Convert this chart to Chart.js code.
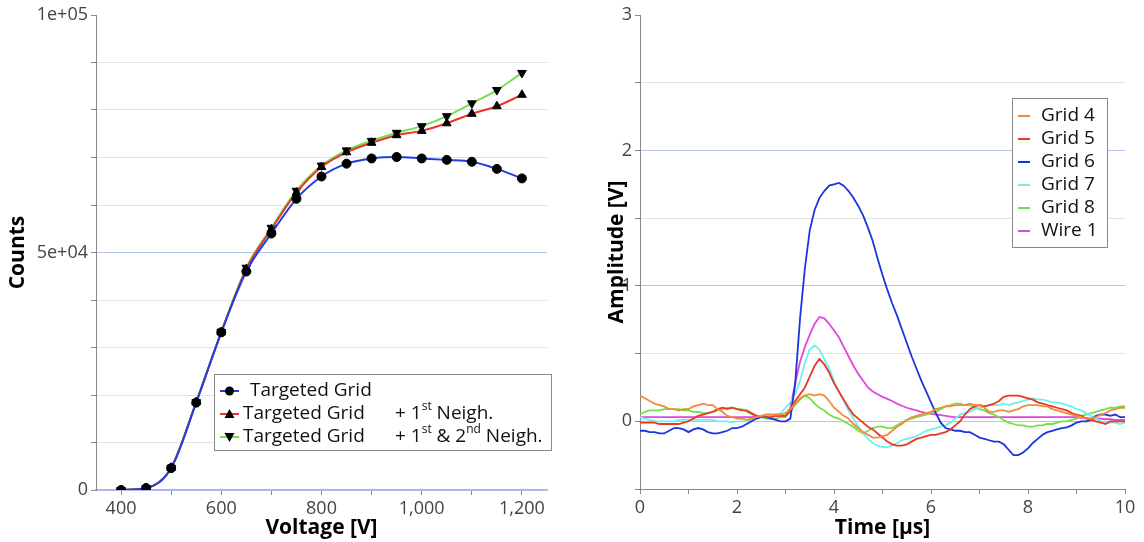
<!DOCTYPE html>
<html>
<head>
<meta charset="utf-8">
<script src="https://cdn.jsdelivr.net/npm/chart.js@4.4.1/dist/chart.umd.min.js"></script>
<style>
	body { margin: 0; background: #fff; }
	#left { position: absolute; left: 0; top: 0; width: 565px; height: 542px; }
	#right { position: absolute; left: 565px; top: 0; width: 579px; height: 542px; }
</style>
</head>
<body>
<div id="left"><canvas id="counts-chart"></canvas></div>
<div id="right"><canvas id="pulse-chart"></canvas></div>
<script>
// left panel: counts vs voltage
const voltage = [400, 450, 500, 550, 600, 650, 700, 750, 800, 850, 900, 950, 1000, 1050, 1100, 1150, 1200];
const countsTargeted = [0, 400, 4600, 18400, 33200, 46000, 54000, 61300, 66000, 68700, 69800, 70100, 69800, 69500, 69100, 67600, 65600];
const countsFirst = [0, 400, 4700, 18500, 33200, 46500, 54900, 62600, 68000, 71100, 73100, 74700, 75600, 77200, 79200, 80800, 83200];
const countsSecond = [0, 400, 4700, 18500, 33300, 46800, 55200, 63000, 68300, 71500, 73500, 75200, 76600, 78700, 81400, 84200, 87800];
const voltageTicks = [400, 500, 600, 700, 800, 900, 1000, 1100, 1200];
const voltageLabels = [400, 600, 800, 1000, 1200];
const countTicks = [0, 10000, 20000, 30000, 40000, 50000, 60000, 70000, 80000, 90000, 100000];
const countLabels = { 0: "0", 50000: "5e+04", 100000: "1e+05" };

// right panel: pulses, sampled every 0.1 us
const timeUs = [0, 0.1, 0.2, 0.3, 0.4, 0.5, 0.6, 0.7, 0.8, 0.9,
	1, 1.1, 1.2, 1.3, 1.4, 1.5, 1.6, 1.7, 1.8, 1.9,
	2, 2.1, 2.2, 2.3, 2.4, 2.5, 2.6, 2.7, 2.8, 2.9,
	3, 3.1, 3.2, 3.3, 3.4, 3.5, 3.6, 3.7, 3.8, 3.9,
	4, 4.1, 4.2, 4.3, 4.4, 4.5, 4.6, 4.7, 4.8, 4.9,
	5, 5.1, 5.2, 5.3, 5.4, 5.5, 5.6, 5.7, 5.8, 5.9,
	6, 6.1, 6.2, 6.3, 6.4, 6.5, 6.6, 6.7, 6.8, 6.9,
	7, 7.1, 7.2, 7.3, 7.4, 7.5, 7.6, 7.7, 7.8, 7.9,
	8, 8.1, 8.2, 8.3, 8.4, 8.5, 8.6, 8.7, 8.8, 8.9,
	9, 9.1, 9.2, 9.3, 9.4, 9.5, 9.6, 9.7, 9.8, 9.9, 10];
const grid4 = [0.19, 0.17, 0.15, 0.13, 0.12, 0.11, 0.09, 0.09, 0.08, 0.09,
	0.09, 0.11, 0.12, 0.13, 0.12, 0.12, 0.09, 0.07, 0.04, 0.03,
	0.02, 0.02, 0.01, 0.02, 0.03, 0.04, 0.05, 0.05, 0.05, 0.05,
	0.06, 0.09, 0.13, 0.17, 0.19, 0.2, 0.19, 0.2, 0.19, 0.15,
	0.1, 0.07, 0.04, 0.02, -0.02, -0.05, -0.08, -0.1, -0.12, -0.12,
	-0.11, -0.1, -0.07, -0.04, -0.02, 0.01, 0.03, 0.04, 0.05, 0.06,
	0.07, 0.09, 0.1, 0.11, 0.11, 0.12, 0.12, 0.12, 0.13, 0.12,
	0.12, 0.1, 0.07, 0.07, 0.08, 0.08, 0.07, 0.08, 0.09, 0.11,
	0.12, 0.12, 0.12, 0.11, 0.11, 0.09, 0.08, 0.07, 0.06, 0.05,
	0.04, 0.03, 0.02, 0.02, 0.03, 0.05, 0.06, 0.08, 0.09, 0.1, 0.1];
const grid5 = [-0.01, -0.01, -0.01, -0.01, -0.02, -0.02, -0.02, -0.02, -0.02, -0.01,
	0, 0.02, 0.04, 0.05, 0.06, 0.07, 0.09, 0.1, 0.09, 0.1,
	0.09, 0.08, 0.08, 0.06, 0.04, 0.03, 0.03, 0.03, 0.04, 0.04,
	0.04, 0.08, 0.15, 0.2, 0.25, 0.33, 0.41, 0.46, 0.42, 0.36,
	0.28, 0.22, 0.16, 0.1, 0.05, 0.02, -0.01, -0.04, -0.06, -0.09,
	-0.12, -0.15, -0.17, -0.18, -0.18, -0.17, -0.15, -0.13, -0.12, -0.11,
	-0.1, -0.1, -0.09, -0.08, -0.06, -0.03, 0, 0.05, 0.09, 0.11,
	0.12, 0.11, 0.12, 0.13, 0.15, 0.18, 0.19, 0.19, 0.19, 0.18,
	0.17, 0.16, 0.14, 0.13, 0.12, 0.11, 0.1, 0.09, 0.08, 0.06,
	0.05, 0.04, 0.02, 0.01, 0, -0.01, -0.02, 0, 0, 0, 0];
const grid6 = [-0.07, -0.07, -0.08, -0.08, -0.09, -0.09, -0.07, -0.05, -0.05, -0.06,
	-0.08, -0.06, -0.05, -0.06, -0.08, -0.09, -0.09, -0.08, -0.07, -0.05,
	-0.05, -0.04, -0.02, 0, 0.02, 0.03, 0.03, 0.02, 0.01, 0,
	0, 0.02, 0.28, 0.76, 1.13, 1.41, 1.56, 1.65, 1.7, 1.74,
	1.75, 1.76, 1.74, 1.7, 1.65, 1.59, 1.52, 1.43, 1.33, 1.2,
	1.08, 0.97, 0.87, 0.78, 0.68, 0.58, 0.48, 0.39, 0.3, 0.22,
	0.14, 0.06, -0.01, -0.05, -0.06, -0.07, -0.07, -0.08, -0.08, -0.1,
	-0.12, -0.13, -0.14, -0.15, -0.15, -0.17, -0.21, -0.25, -0.25, -0.23,
	-0.2, -0.16, -0.13, -0.1, -0.08, -0.07, -0.06, -0.05, -0.045, -0.03,
	-0.01, 0, 0, 0.01, 0.04, 0.05, 0.05, 0.04, 0.05, 0.03, 0.03];
const grid7 = [0.03, 0.02, 0.01, 0, 0, 0, 0, 0, 0.01, 0.01,
	0.01, 0.01, 0.01, 0.01, 0.01, 0.01, 0, 0, 0, -0.01,
	0, 0, 0, 0.01, 0.02, 0.03, 0.04, 0.04, 0.05, 0.06,
	0.1, 0.14, 0.2, 0.3, 0.43, 0.53, 0.56, 0.53, 0.46, 0.39,
	0.3, 0.22, 0.15, 0.08, 0.02, -0.04, -0.09, -0.13, -0.16, -0.18,
	-0.19, -0.19, -0.18, -0.16, -0.14, -0.13, -0.12, -0.11, -0.09, -0.07,
	-0.06, -0.05, -0.04, -0.03, -0.01, 0.02, 0.05, 0.06, 0.07, 0.09,
	0.1, 0.11, 0.12, 0.12, 0.12, 0.13, 0.12, 0.13, 0.14, 0.15,
	0.16, 0.17, 0.16, 0.16, 0.15, 0.14, 0.14, 0.13, 0.12, 0.11,
	0.09, 0.08, 0.06, 0.04, 0.02, 0, -0.01, -0.01, -0.01, -0.02, -0.01];
const grid8 = [0.05, 0.07, 0.08, 0.08, 0.08, 0.09, 0.09, 0.09, 0.09, 0.08,
	0.08, 0.07, 0.07, 0.06, 0.06, 0.07, 0.08, 0.09, 0.1, 0.1,
	0.09, 0.09, 0.07, 0.05, 0.04, 0.03, 0.02, 0.02, 0.02, 0.03,
	0.03, 0.07, 0.12, 0.16, 0.19, 0.17, 0.13, 0.1, 0.08, 0.05,
	0.03, 0.02, 0, -0.02, -0.04, -0.07, -0.09, -0.07, -0.05, -0.04,
	-0.04, -0.05, -0.05, -0.03, -0.01, 0.01, 0.02, 0.03, 0.04, 0.05,
	0.06, 0.07, 0.09, 0.11, 0.12, 0.13, 0.13, 0.12, 0.12, 0.1,
	0.09, 0.08, 0.06, 0.05, 0.03, 0.01, -0.01, -0.02, -0.03, -0.03,
	-0.04, -0.04, -0.03, -0.03, -0.02, -0.02, -0.01, 0, 0, 0.01,
	0.02, 0.04, 0.05, 0.06, 0.07, 0.08, 0.09, 0.1, 0.1, 0.11, 0.11];
const wire1 = [0.03, 0.03, 0.03, 0.03, 0.03, 0.03, 0.03, 0.03, 0.03, 0.03,
	0.03, 0.03, 0.03, 0.03, 0.03, 0.03, 0.03, 0.03, 0.03, 0.03,
	0.03, 0.03, 0.03, 0.03, 0.035, 0.035, 0.035, 0.04, 0.04, 0.04,
	0.04, 0.1, 0.28, 0.44, 0.55, 0.64, 0.72, 0.77, 0.76, 0.72,
	0.67, 0.62, 0.55, 0.48, 0.41, 0.35, 0.3, 0.25, 0.22, 0.2,
	0.18, 0.165, 0.15, 0.13, 0.115, 0.1, 0.09, 0.08, 0.07, 0.06,
	0.055, 0.05, 0.045, 0.04, 0.035, 0.03, 0.03, 0.03, 0.03, 0.03,
	0.03, 0.03, 0.03, 0.03, 0.03, 0.03, 0.03, 0.03, 0.03, 0.03,
	0.03, 0.03, 0.03, 0.03, 0.03, 0.03, 0.03, 0.03, 0.03, 0.03,
	0.03, 0.025, 0.025, 0.02, 0.02, 0.02, 0.015, 0.015, 0.01, 0.01, 0.01];
const timeTicks = [0, 1, 2, 3, 4, 5, 6, 7, 8, 9, 10];
const ampTicks = [-0.5, 0, 0.5, 1, 1.5, 2, 2.5, 3];

const FONT = "'Open Sans', 'DejaVu Sans', sans-serif";
const tickFont = { family: FONT, size: 18 };
const titleFont = { family: FONT, size: 21, weight: "bold" };
const majorGrid = "#b5c0f5";
const minorGrid = "#e2e2e2";
const blank = "rgba(0,0,0,0)";

const toPoints = (xs, ys) => xs.map((x, i) => ({ x: x, y: ys[i] }));

// draws a marker the way the legend needs it
const drawMarker = (ctx, style, x, y) => {
	ctx.fillStyle = "#000";
	ctx.beginPath();
	if (style === "circle") {
		ctx.arc(x, y, 4.5, 0, Math.PI * 2);
	} else if (style === "up") {
		ctx.moveTo(x, y - 5);
		ctx.lineTo(x + 5, y + 4);
		ctx.lineTo(x - 5, y + 4);
	} else {
		ctx.moveTo(x, y + 5);
		ctx.lineTo(x + 5, y - 4);
		ctx.lineTo(x - 5, y - 4);
	}
	ctx.closePath();
	ctx.fill();
};

// text with superscript pieces: parts = [[text, sup?], ...]
const drawParts = (ctx, parts, x, y) => {
	let cx = x;
	for (const [text, sup] of parts) {
		ctx.font = sup ? `12px ${FONT}` : `19px ${FONT}`;
		ctx.fillText(text, cx, sup ? y - 7 : y);
		cx += ctx.measureText(text).width;
	}
};

const countsLegend = {
	id: "countsLegend",
	afterDraw(chart) {
		const ctx = chart.ctx;
		const markers = ["circle", "up", "down"];
		const first = [[["Targeted Grid"]], [["Targeted Grid"]], [["Targeted Grid"]]];
		const second = [
			[],
			[["+ 1"], ["st", true], [" Neigh."]],
			[["+ 1"], ["st", true], [" & 2"], ["nd", true], [" Neigh."]],
		];
		const rows = [391, 414, 437];
		ctx.save();
		ctx.fillStyle = "#fff";
		ctx.fillRect(214, 374, 337, 76);
		ctx.strokeStyle = "#8a8a8a";
		ctx.lineWidth = 1;
		ctx.strokeRect(214.5, 374.5, 337, 76);
		chart.data.datasets.forEach((ds, i) => {
			const y = rows[i];
			ctx.strokeStyle = ds.borderColor;
			ctx.lineWidth = 2;
			ctx.beginPath();
			ctx.moveTo(220, y);
			ctx.lineTo(239, y);
			ctx.stroke();
			drawMarker(ctx, markers[i], 229.5, y);
			ctx.fillStyle = "#111";
			ctx.textBaseline = "middle";
			drawParts(ctx, first[i], i === 0 ? 250 : 243, y);
			drawParts(ctx, second[i], 395, y);
		});
		ctx.restore();
	},
};

const pulseLegend = {
	id: "pulseLegend",
	afterDraw(chart) {
		const ctx = chart.ctx;
		const rows = [116, 139, 162, 185, 208, 231];
		ctx.save();
		ctx.fillStyle = "#fff";
		ctx.fillRect(447, 98, 95, 149);
		ctx.strokeStyle = "#8a8a8a";
		ctx.lineWidth = 1;
		ctx.strokeRect(447.5, 98.5, 95, 149);
		chart.data.datasets.forEach((ds, i) => {
			const y = rows[i];
			ctx.strokeStyle = ds.borderColor;
			ctx.lineWidth = 2;
			ctx.beginPath();
			ctx.moveTo(453, y);
			ctx.lineTo(465, y);
			ctx.stroke();
			ctx.fillStyle = "#111";
			ctx.textBaseline = "middle";
			ctx.font = `19px ${FONT}`;
			ctx.fillText(ds.label, 476, y);
		});
		ctx.restore();
	},
};

new Chart(document.getElementById("counts-chart"), {
	type: "line",
	data: {
		datasets: [
			{
				label: "Targeted Grid",
				data: toPoints(voltage, countsTargeted),
				borderColor: "#1f3fe4",
				pointStyle: "circle",
				pointRadius: 4.5,
			},
			{
				label: "Targeted Grid + 1st Neigh.",
				data: toPoints(voltage, countsFirst),
				borderColor: "#e8362a",
				pointStyle: "triangle",
				pointRadius: 5,
			},
			{
				label: "Targeted Grid + 1st & 2nd Neigh.",
				data: toPoints(voltage, countsSecond),
				borderColor: "#74e050",
				pointStyle: "triangle",
				pointRotation: 180,
				pointRadius: 5,
			},
		].map((ds) => ({
			...ds,
			borderWidth: 2,
			pointBackgroundColor: "#000",
			pointBorderColor: "#000",
			pointBorderWidth: 1,
			cubicInterpolationMode: "monotone",
		})),
	},
	options: {
		responsive: true,
		maintainAspectRatio: false,
		animation: false,
		devicePixelRatio: 1,
		layout: { padding: { left: 0, top: 15, right: 18, bottom: 0 } },
		plugins: { legend: { display: false }, tooltip: { enabled: false } },
		scales: {
			x: {
				type: "linear",
				min: 350,
				max: 1250,
				afterBuildTicks: (s) => { s.ticks = voltageTicks.map((v) => ({ value: v })); },
				afterFit: (s) => { s.height = 52; },
				ticks: {
					font: tickFont,
					color: "#444",
					padding: 3,
					maxRotation: 0,
					autoSkip: false,
					callback: (v) => (voltageLabels.includes(v) ? v.toLocaleString("en-US") : ""),
				},
				grid: { drawOnChartArea: false, tickLength: 5, tickColor: "#888" },
				border: { color: "#a9b3ec", width: 1.5 },
				title: { display: true, text: "Voltage [V]", font: titleFont, color: "#000", padding: { top: 0, bottom: 1 } },
			},
			y: {
				min: 0,
				max: 100000,
				afterBuildTicks: (s) => { s.ticks = countTicks.map((v) => ({ value: v })); },
				afterFit: (s) => { s.width = 96; },
				ticks: {
					font: tickFont,
					color: "#444",
					padding: 3,
					autoSkip: false,
					callback: (v) => countLabels[v] || "",
				},
				grid: {
					tickLength: 5,
					tickColor: "#888",
					color: (c) => (c.tick.value === 100000 ? blank : c.tick.value % 50000 === 0 ? majorGrid : minorGrid),
				},
				border: { color: "#888" },
				title: { display: true, text: "Counts", font: titleFont, color: "#000", padding: { top: 5, bottom: 0 } },
			},
		},
	},
	plugins: [countsLegend],
});

new Chart(document.getElementById("pulse-chart"), {
	type: "line",
	data: {
		datasets: [
			{ label: "Grid 4", data: toPoints(timeUs, grid4), borderColor: "#f28a3c" },
			{ label: "Grid 5", data: toPoints(timeUs, grid5), borderColor: "#e83a22" },
			{ label: "Grid 6", data: toPoints(timeUs, grid6), borderColor: "#1a35e0" },
			{ label: "Grid 7", data: toPoints(timeUs, grid7), borderColor: "#6ef0f0" },
			{ label: "Grid 8", data: toPoints(timeUs, grid8), borderColor: "#72e048" },
			{ label: "Wire 1", data: toPoints(timeUs, wire1), borderColor: "#e444e0" },
		].map((ds) => ({ ...ds, borderWidth: 1.8, pointRadius: 0, tension: 0 })),
	},
	options: {
		responsive: true,
		maintainAspectRatio: false,
		animation: false,
		devicePixelRatio: 1,
		layout: { padding: { left: 38, top: 15, right: 19, bottom: 0 } },
		plugins: { legend: { display: false }, tooltip: { enabled: false } },
		scales: {
			x: {
				type: "linear",
				min: 0,
				max: 10,
				afterBuildTicks: (s) => { s.ticks = timeTicks.map((v) => ({ value: v })); },
				afterFit: (s) => { s.height = 53; },
				ticks: {
					font: tickFont,
					color: "#444",
					padding: 3,
					maxRotation: 0,
					autoSkip: false,
					callback: (v) => (v % 2 === 0 ? String(v) : ""),
				},
				grid: { drawOnChartArea: false, tickLength: 5, tickColor: "#888" },
				border: { color: "#888" },
				title: { display: true, text: "Time [µs]", font: titleFont, color: "#000", padding: { top: 0, bottom: 1 } },
			},
			y: {
				min: -0.5,
				max: 3,
				afterBuildTicks: (s) => { s.ticks = ampTicks.map((v) => ({ value: v })); },
				afterFit: (s) => { s.width = 37; },
				ticks: {
					font: tickFont,
					color: "#444",
					padding: 3,
					autoSkip: false,
					callback: (v) => (Number.isInteger(v) ? String(v) : ""),
				},
				grid: {
					tickLength: 5,
					tickColor: "#888",
					color: (c) => (c.tick.value === 3 || c.tick.value === -0.5 ? blank : Number.isInteger(c.tick.value) ? majorGrid : minorGrid),
				},
				border: { color: "#888" },
				title: { display: true, text: "Amplitude [V]", font: titleFont, color: "#000", padding: { top: 1, bottom: 0 } },
			},
		},
	},
	plugins: [pulseLegend],
});
</script>
</body>
</html>
